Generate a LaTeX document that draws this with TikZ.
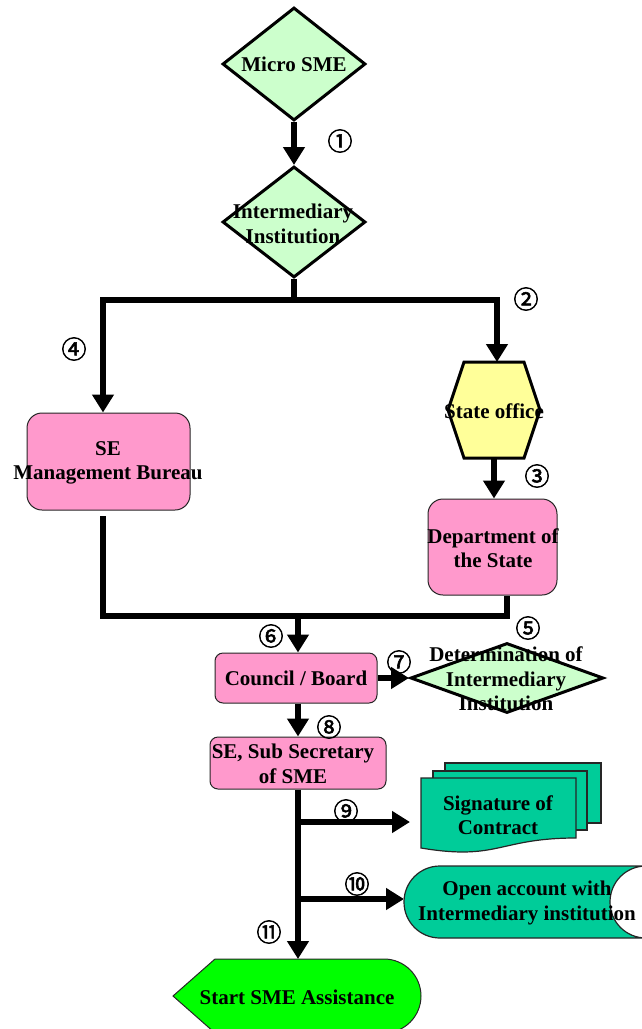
\documentclass[tikz,border=0pt]{standalone}
\usepackage{fontspec}
\setmainfont{Liberation Serif}
\newfontfamily\circfont[FakeBold=2.2]{Noto Sans CJK JP}
\usetikzlibrary{arrows.meta,shapes.geometric}
\definecolor{mint}{HTML}{CCFFCC}
\definecolor{rose}{HTML}{FF99CC}
\definecolor{lemon}{HTML}{FFFF99}
\definecolor{docgreen}{HTML}{00CC99}
\definecolor{brightgreen}{HTML}{00FF00}
\begin{document}
\begin{tikzpicture}[x=1pt,y=-1pt,
  lbl/.style={font=\fontsize{21}{24.5}\selectfont\bfseries, align=center, inner sep=0pt},
  num/.style={font=\circfont\fontsize{25}{25}\selectfont, inner sep=0pt},
  decision/.style={diamond, draw=black, line width=3pt, fill=mint, inner sep=0pt},
  roundbox/.style={rectangle, rounded corners=#1, draw=black!85, line width=1pt, fill=rose, inner sep=0pt},
  roundbox/.default=14pt,
  anchorbox/.style={rectangle, inner sep=0pt, outer sep=0pt},
  thinline/.style={draw=black!85, line width=1.2pt, line join=miter},
  flow/.style={line width=6pt, line join=miter},
  flowarrow/.style={flow, -{Triangle[width=21pt,length=18pt]}},
]
\useasboundingbox (0,0) rectangle (642,1029);
\clip (0,0) rectangle (642,1029);

% --- shapes ---
\node[decision, minimum width=143pt, minimum height=113pt] (ms) at (294,64) {};
\node[lbl] (ms-t) at (ms) {Micro SME};

\node[decision, minimum width=143pt, minimum height=111pt] (ii) at (294,222) {};
\node[lbl] (ii-t) at (293,224) {Intermediary\\Institution};

\node[roundbox=15pt, minimum width=163pt, minimum height=97pt] (seb) at (108.5,461.5) {};
\node[lbl] (seb-t) at (108,463) {SE\\Management Bureau};

% state office hexagon
\node[anchorbox, minimum width=92pt, minimum height=96pt] (so) at (494,410) {};
\draw[line width=3pt, fill=lemon, line join=miter]
  (so.west) -- ([xshift=16pt]so.north west) -- ([xshift=-16pt]so.north east)
  -- (so.east) -- ([xshift=-16pt]so.south east) -- ([xshift=16pt]so.south west) -- cycle;
\node[lbl] (so-t) at (494,411) {State office};

\node[roundbox=15pt, minimum width=129pt, minimum height=96pt] (dept) at (492.5,547) {};
\node[lbl] (dept-t) at (493,548) {Department of\\the State};

\node[roundbox=8pt, minimum width=162pt, minimum height=50pt] (cb) at (296,678) {};
\node[lbl] (cb-t) at (cb) {Council / Board};

\node[decision, minimum width=193pt, minimum height=70pt] (det) at (507,678) {};
\node[lbl] (det-t) at (506,679) {Determination of\\Intermediary\\Institution};

\node[roundbox=8pt, minimum width=176pt, minimum height=52pt] (sub) at (298,763) {};
\node[lbl] (sub-t) at (293,764) {SE, Sub Secretary\\of SME};

% signature: stacked documents
\node[anchorbox, minimum width=155pt, minimum height=72pt] (sig) at (498.5,814) {};
\draw[thinline, fill=docgreen] (445,763) rectangle (601,823);
\draw[thinline, fill=docgreen] (433,771) rectangle (587,830);
\draw[thinline, fill=docgreen] (421,778) -- (576,778) -- (576,838)
  .. controls (498.5,838) and (498.5,861) .. (421,848) -- cycle;
\node[lbl] (sig-t) at (498,815) {Signature of\\Contract};

% open account: stored-data shape
\node[anchorbox, minimum width=242pt, minimum height=72pt] (oa) at (525,902) {};
\draw[thinline, fill=docgreen] (440,866) -- (646,866)
  .. controls (626,866) and (610,882) .. (610,902)
  .. controls (610,922) and (626,938) .. (646,938) -- (440,938)
  .. controls (420,938) and (404,922) .. (404,902)
  .. controls (404,882) and (420,866) .. (440,866) -- cycle;
\node[lbl] (oa-t) at (527,903) {Open account with\\Intermediary institution};

% start: display shape
\node[anchorbox, minimum width=248pt, minimum height=74pt] (st) at (297,996) {};
\draw[draw=black!85, line width=1pt, fill=brightgreen] (173,996) -- (215,959) -- (384,959)
  .. controls (404.4,959) and (421,975.6) .. (421,996)
  .. controls (421,1016.4) and (404.4,1033) .. (384,1033) -- (215,1033) -- cycle;
\node[lbl] (st-t) at (297,997) {Start SME Assistance};

% --- connectors ---
\draw[flowarrow] (ms.south) -- (ii.north);
\coordinate (split) at (294,300);
\coordinate (lc) at (103,300);
\coordinate (rc) at (497,300);
\draw[flow] (ii.south) -- (split);
\draw[flowarrow] (split) -- (lc) -- (lc |- seb.north);
\draw[flowarrow] (split) -- (rc) -- (rc |- so.north);
\draw[flowarrow] (so.south) -- (so.south |- dept.north);

\coordinate (lb) at (103,516);
\coordinate (mr) at (507,616);
\coordinate (mc) at (298,616);
\draw[flow] (lb) |- (mr) -- (mr |- dept.south);
\draw[flowarrow] (mc) -- (mc |- cb.north);
\draw[flowarrow] (cb.east) -- (det.west);
\draw[flowarrow] (mc |- cb.south) -- (mc |- sub.north);
\draw[flowarrow] (mc |- sub.south) -- (mc |- st.north);
\coordinate (b9) at (298,822);
\coordinate (t9) at (410,822);
\draw[flowarrow] (b9) -- (t9);
\coordinate (b10) at (298,899);
\draw[flowarrow] (b10) -- (b10 -| oa.west);

% --- step numbers ---
\node[num] (n1) at (340,141) {①};
\node[num] (n2) at (526,299) {②};
\node[num] (n3) at (537,476) {③};
\node[num] (n4) at (74,349) {④};
\node[num] (n5) at (528,628) {⑤};
\node[num] (n6) at (271,636) {⑥};
\node[num] (n7) at (399,662) {⑦};
\node[num] (n8) at (329,727) {⑧};
\node[num] (n9) at (346,811) {⑨};
\node[num] (n10) at (357,884) {⑩};
\node[num] (n11) at (269,932) {⑪};
\end{tikzpicture}
\end{document}
